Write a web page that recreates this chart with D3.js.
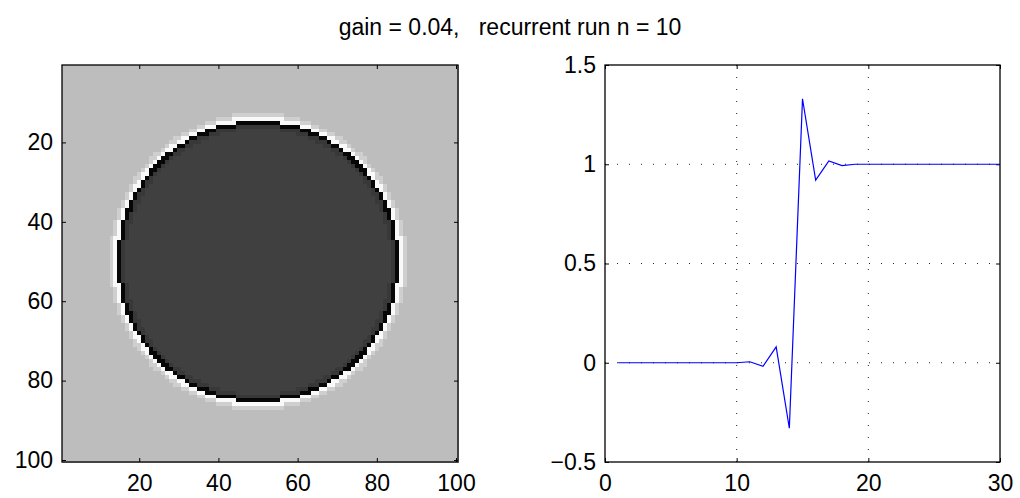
<!DOCTYPE html>
<html>
<head>
<meta charset="utf-8">
<script src="https://cdn.jsdelivr.net/npm/d3@7"></script>
<style>
  html, body { margin: 0; padding: 0; background: #fff; }
  svg { display: block; font-family: "Liberation Sans", Arial, Helvetica, sans-serif; }
</style>
</head>
<body>
<svg id="chart" width="1020" height="498"></svg>
<script>
// ---------- data ----------
const titleText = "gain = 0.04,   recurrent run n = 10";

// left panel: 100x100 image of a disk with an enhanced edge
const imageSize = 100;
const diskCenter = 50;             // pixel coordinates (1-based)
const ringRadius = 35;             // radius where the dark ring sits
// values across the edge, inside -> outside (ring index 0..5)
const ringProfile = [0, -0.06, -0.45, 1.45, 1.12, 0.98];
const imageTicks = [20, 40, 60, 80, 100];

// right panel: 1D profile after recurrent run
const stepX = [1,2,3,4,5,6,7,8,9,10,11,12,13,14,15,16,17,18,19,20,21,22,23,24,25,26,27,28,29,30];
const stepY = [0,0,0,0,0,0,0,0,0,0,0.005,-0.018,0.08,-0.33,1.33,0.92,1.017,0.993,1.0,1,1,1,1,1,1,1,1,1,1,1];
const xTicks = [0, 10, 20, 30];
const yTicks = [-0.5, 0, 0.5, 1, 1.5];
const yTickLabels = ["\u22120.5", "0", "0.5", "1", "1.5"];
const xGrid = [10, 20];
const yGrid = [0, 0.5, 1];

// ---------- drawing ----------
const svg = d3.select("#chart");
const FS = 23;

svg.append("text")
  .attr("x", 510).attr("y", 35)
  .attr("text-anchor", "middle")
  .attr("font-size", FS)
  .attr("fill", "#000")
  .style("white-space", "pre")
  .attr("xml:space", "preserve")
  .text(titleText);

// ----- left panel -----
const L = {x0: 62, x1: 458, y0: 65, y1: 462};
const ix = d3.scaleLinear().domain([0.5, imageSize + 0.5]).range([L.x0, L.x1]);
const iy = d3.scaleLinear().domain([0.5, imageSize + 0.5]).range([L.y0, L.y1]);
const gray = d3.scaleLinear().domain([-0.5, 1.5]).range(["#000000", "#ffffff"]).clamp(true);

const cells = [];
for (let r = 1; r <= imageSize; r++) {
  for (let c = 1; c <= imageSize; c++) {
    const dist = Math.hypot(r - diskCenter, c - diskCenter);
    let k = Math.round(dist - ringRadius) + 2;
    k = Math.max(0, Math.min(ringProfile.length - 1, k));
    cells.push({r, c, v: ringProfile[k]});
  }
}
const left = svg.append("g");
left.append("g")
  .attr("shape-rendering", "crispEdges")
  .selectAll("rect").data(cells).join("rect")
  .attr("x", d => ix(d.c - 0.5))
  .attr("y", d => iy(d.r - 0.5))
  .attr("width", ix(1.5) - ix(0.5) + 0.6)
  .attr("height", iy(1.5) - iy(0.5) + 0.6)
  .attr("fill", d => gray(d.v));

function styleAxis(g, showText) {
  g.select(".domain").remove();
  g.selectAll(".tick line").attr("stroke", "#000").attr("stroke-width", 1);
  g.selectAll(".tick text").attr("font-size", FS).attr("fill", "#000")
    .attr("font-family", "Liberation Sans, Arial, sans-serif");
  if (!showText) g.selectAll(".tick text").remove();
}

left.append("g").attr("transform", `translate(0,${L.y1})`)
  .call(d3.axisBottom(ix).tickValues(imageTicks).tickSize(-4).tickPadding(13))
  .call(g => styleAxis(g, true));
left.append("g").attr("transform", `translate(0,${L.y0})`)
  .call(d3.axisTop(ix).tickValues(imageTicks).tickSize(-4))
  .call(g => styleAxis(g, false));
left.append("g").attr("transform", `translate(${L.x0},0)`)
  .call(d3.axisLeft(iy).tickValues(imageTicks).tickSize(-4).tickPadding(9))
  .call(g => styleAxis(g, true));
left.append("g").attr("transform", `translate(${L.x1},0)`)
  .call(d3.axisRight(iy).tickValues(imageTicks).tickSize(-4))
  .call(g => styleAxis(g, false));
left.append("rect")
  .attr("x", L.x0).attr("y", L.y0)
  .attr("width", L.x1 - L.x0).attr("height", L.y1 - L.y0)
  .attr("fill", "none").attr("stroke", "#000").attr("stroke-width", 1.3);

// ----- right panel -----
const R = {x0: 605, x1: 1000, y0: 65, y1: 462};
const sx = d3.scaleLinear().domain([0, 30]).range([R.x0, R.x1]);
const sy = d3.scaleLinear().domain([-0.5, 1.5]).range([R.y1, R.y0]);
const right = svg.append("g");

right.append("g").selectAll("line").data(xGrid).join("line")
  .attr("x1", d => sx(d)).attr("x2", d => sx(d))
  .attr("y1", R.y0).attr("y2", R.y1)
  .attr("stroke", "#222").attr("stroke-width", 1)
  .attr("stroke-dasharray", "1,11");
right.append("g").selectAll("line").data(yGrid).join("line")
  .attr("x1", R.x0).attr("x2", R.x1)
  .attr("y1", d => sy(d)).attr("y2", d => sy(d))
  .attr("stroke", "#222").attr("stroke-width", 1)
  .attr("stroke-dasharray", "1,11");

right.append("g").attr("transform", `translate(0,${R.y1})`)
  .call(d3.axisBottom(sx).tickValues(xTicks).tickFormat(d3.format("d")).tickSize(-4).tickPadding(13))
  .call(g => styleAxis(g, true));
right.append("g").attr("transform", `translate(0,${R.y0})`)
  .call(d3.axisTop(sx).tickValues(xTicks).tickSize(-4))
  .call(g => styleAxis(g, false));
right.append("g").attr("transform", `translate(${R.x0},0)`)
  .call(d3.axisLeft(sy).tickValues(yTicks).tickFormat((d, i) => yTickLabels[i]).tickSize(-4).tickPadding(9))
  .call(g => styleAxis(g, true));
right.append("g").attr("transform", `translate(${R.x1},0)`)
  .call(d3.axisRight(sy).tickValues(yTicks).tickSize(-4))
  .call(g => styleAxis(g, false));

const line = d3.line().x((d, i) => sx(stepX[i])).y(d => sy(d));
right.append("path")
  .datum(stepY)
  .attr("d", line)
  .attr("fill", "none")
  .attr("stroke", "#0000ff")
  .attr("stroke-width", 1.2)
  .attr("stroke-linejoin", "miter");

right.append("rect")
  .attr("x", R.x0).attr("y", R.y0)
  .attr("width", R.x1 - R.x0).attr("height", R.y1 - R.y0)
  .attr("fill", "none").attr("stroke", "#000").attr("stroke-width", 1.3);
</script>
</body>
</html>
